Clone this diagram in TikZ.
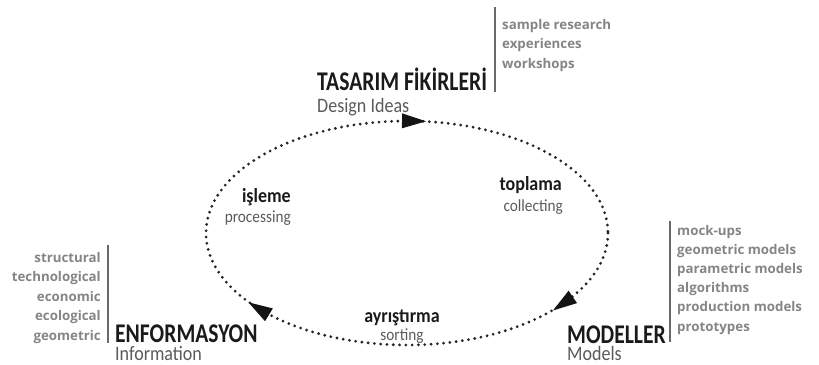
\documentclass[tikz,border=0pt]{standalone}
\usepackage{fontspec}
\usetikzlibrary{decorations.markings}
\newfontfamily\headfont[FakeStretch=0.8]{Carlito}
\newfontfamily\subfont[FakeStretch=0.88]{Carlito}
\newfontfamily\smallfont[FakeStretch=0.9]{Carlito}
\newfontfamily\listfont{Open Sans}
\definecolor{headc}{HTML}{1A1A1A}
\definecolor{subc}{HTML}{5A5A5A}
\definecolor{listc}{HTML}{858585}
\definecolor{sepc}{HTML}{6A6A6A}
\tikzset{
  heading/.style={inner sep=0pt, text=headc, font=\headfont\bfseries\fontsize{27}{27}\selectfont},
  subhead/.style={inner sep=0pt, text=subc, font=\subfont\fontsize{20.5}{20.5}\selectfont},
  steplabel/.style={inner sep=0pt, text=headc, font=\smallfont\bfseries\fontsize{20}{20}\selectfont},
  stepsub/.style={inner sep=0pt, text=subc, font=\smallfont\fontsize{17}{17}\selectfont},
  listitem/.style={inner sep=0pt, text=listc, font=\listfont\bfseries\fontsize{13.3}{13.3}\selectfont},
  sepline/.style={draw=sepc, line width=1.4pt},
  cycleline/.style={draw=black!85, line width=3.1pt, line cap=round, dash pattern=on 0pt off 6.3pt},
  tri/.style={fill=black!92}
}
\begin{document}
\begin{tikzpicture}[x=1pt,y=-1pt]
\useasboundingbox (0,0) rectangle (819,364);
% cycle
\path[cycleline, postaction={decorate}, decoration={markings,
   mark=at position 0.087 with {\fill[tri] (-12pt,-7.5pt) -- (12pt,0pt) -- (-12pt,7.5pt) -- cycle;},
   mark=at position 0.404 with {\fill[tri] (-12pt,-7.5pt) -- (12pt,0pt) -- (-12pt,7.5pt) -- cycle;},
   mark=at position 0.757 with {\fill[tri] (-12pt,-7.5pt) -- (12pt,0pt) -- (-12pt,7.5pt) -- cycle;}}]
   (407,233) ellipse [x radius=201, y radius=112];
% Design ideas
\node[heading, anchor=base west] (tas) at (317,90) {TASARIM FİKİRLERİ};
\node[subhead, anchor=base west] (tasen) at (317,112) {Design Ideas};
\coordinate (s1a) at (495,7); \coordinate (s1b) at (495,92);
\draw[sepline] (s1a) -- (s1b);
\foreach \t [count=\i] in {sample research, experiences, workshops}
  \node[listitem, anchor=base west] (la\i) at (502,{29+19.5*(\i-1)}) {\t};
% Information
\node[heading, anchor=base west] (enf) at (115,342) {ENFORMASYON};
\node[subhead, anchor=base west] (enfen) at (115,360.5) {Information};
\coordinate (s2a) at (108,245); \coordinate (s2b) at (108,343);
\draw[sepline] (s2a) -- (s2b);
\foreach \t [count=\i] in {structural, technological, economic, ecological, geometric}
  \node[listitem, anchor=base east] (lb\i) at (101,{262+19.5*(\i-1)}) {\t};
% Models
\node[heading, anchor=base west] (mod) at (567,343) {MODELLER};
\node[subhead, anchor=base west] (moden) at (567,360.5) {Models};
\coordinate (s3a) at (670,221); \coordinate (s3b) at (670,342);
\draw[sepline] (s3a) -- (s3b);
\foreach \t [count=\i] in {mock-ups, geometric models, parametric models, algorithms, production models, prototypes}
  \node[listitem, anchor=base west] (lc\i) at (677,{235+19.2*(\i-1)}) {\t};
% step labels
\node[steplabel, anchor=base east] (isl) at (291,202) {işleme};
\node[stepsub, anchor=base east] (isle) at (291,222) {processing};
\node[steplabel, anchor=base east] (top) at (562,190) {toplama};
\node[stepsub, anchor=base east] (tope) at (563,211) {collecting};
\node[steplabel, anchor=base] (ayr) at (402,322) {ayrıştırma};
\node[stepsub, anchor=base] (ayre) at (402,340) {sorting};
\end{tikzpicture}
\end{document}
